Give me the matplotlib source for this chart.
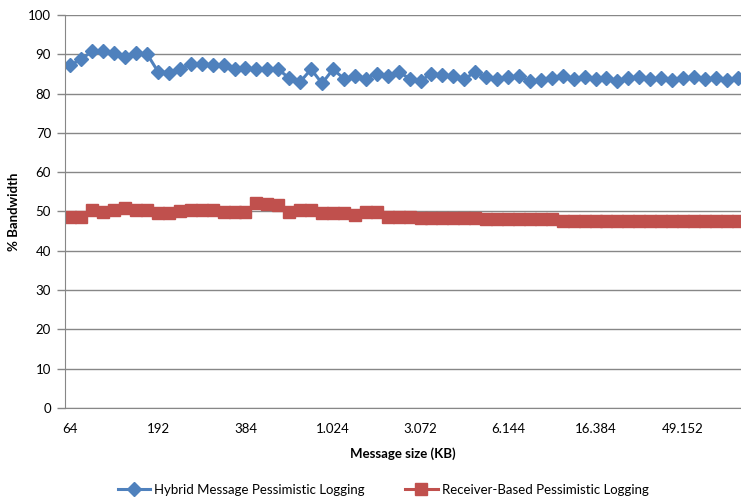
import numpy as np
import matplotlib.pyplot as plt

plt.rcParams['font.family'] = ['Lato', 'DejaVu Sans']

# category labels shown on the x axis (one label every 8 points)
tick_labels = ['64', '192', '384', '1.024', '3.072', '6.144', '16.384', '49.152']
label_step = 8

hybrid = [87.3, 88.7, 90.9, 90.9, 90.4, 89.4, 90.4, 90.1, 85.6, 85.3,
          86.2, 87.5, 87.5, 87.3, 87.3, 86.2, 86.4, 86.2, 86.2, 86.2,
          83.9, 83.0, 86.2, 82.6, 86.2, 83.8, 84.4, 83.8, 85.1, 84.4,
          85.6, 83.8, 83.2, 85.1, 84.7, 84.4, 83.6, 85.6, 84.2, 83.6,
          84.2, 84.5, 83.1, 83.5, 84.0, 84.6, 83.8, 84.2, 83.8, 83.9,
          83.1, 83.9, 84.2, 83.7, 84.0, 83.4, 83.9, 84.2, 83.7, 84.0,
          83.5, 83.9]

receiver = [48.7, 48.7, 50.3, 49.8, 50.3, 50.9, 50.4, 50.4, 49.6, 49.6,
            50.0, 50.3, 50.3, 50.3, 49.8, 49.8, 49.8, 52.2, 51.8, 51.6,
            49.8, 50.3, 50.3, 49.6, 49.6, 49.6, 49.2, 49.8, 49.8, 48.7,
            48.7, 48.7, 48.3, 48.3, 48.3, 48.3, 48.3, 48.3, 48.0, 48.0,
            48.0, 48.0, 48.0, 48.0, 48.0, 47.6, 47.6, 47.6, 47.6, 47.6,
            47.6, 47.6, 47.6, 47.6, 47.6, 47.6, 47.6, 47.6, 47.6, 47.6,
            47.6, 47.6]

blue = '#4F81BD'
red = '#C0504D'
grid = '#878787'

fig = plt.figure(figsize=(7.41, 4.98), dpi=100)
ax = fig.add_axes([65 / 741, 90 / 498, 1 - 65 / 741, 393 / 498])

x = np.arange(len(hybrid))
ax.plot(x, hybrid, color=blue, lw=2.2, marker='D', markersize=7,
        label='Hybrid Message Pessimistic Logging')
ax.plot(x, receiver, color=red, lw=2.2, marker='s', markersize=8.5,
        label='Receiver-Based Pessimistic Logging')

ax.set_xlim(-0.5, 61.3)
ax.set_ylim(0, 100)
ax.set_yticks(range(0, 101, 10))
ax.yaxis.grid(True, color=grid, lw=1)
ax.set_axisbelow(True)

ax.set_xticks(np.arange(len(tick_labels)) * label_step)
ax.set_xticklabels(tick_labels)
ax.tick_params(axis='x', length=0, pad=11, labelsize=9.5, colors='black')
ax.tick_params(axis='y', length=6, width=1, color=grid, pad=4, labelsize=9.5)

for s in ['top', 'right']:
    ax.spines[s].set_visible(False)
ax.spines['left'].set_color(grid)
ax.spines['bottom'].set_color(grid)

ax.set_xlabel('Message size (KB)', fontweight='bold', fontsize=9.5, labelpad=9)
ax.set_ylabel('% Bandwidth', fontweight='bold', fontsize=9.5, labelpad=6)

fig.legend(loc='center', bbox_to_anchor=(383 / 741, 1 - 490 / 498), ncol=2,
           frameon=False, fontsize=9.5, columnspacing=3, handlelength=2.5,
           handletextpad=0.3)

plt.savefig('out.png', dpi=100)
